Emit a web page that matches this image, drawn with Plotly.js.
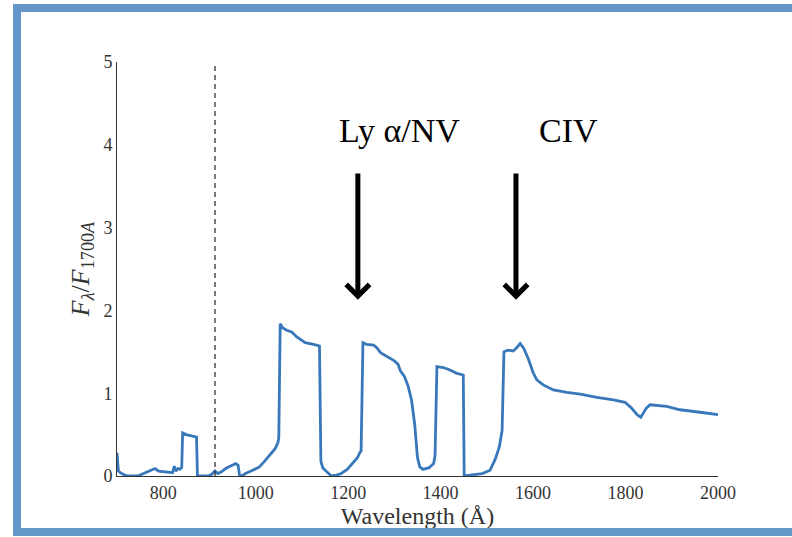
<!DOCTYPE html>
<html>
<head>
<meta charset="utf-8">
<script src="https://cdn.plot.ly/plotly-3.0.1.min.js"></script>
<style>
  html, body { margin: 0; padding: 0; background: #ffffff; }
  #wrap { position: relative; width: 792px; height: 537px; overflow: hidden; }
  #plot { position: absolute; left: 0; top: 0; width: 792px; height: 537px; }
  #frame {
    position: absolute; left: 13px; top: 4px; width: 820px; height: 516px;
    border-top: 8px solid #6396c9; border-left: 8px solid #6396c9; border-bottom: 8px solid #6396c9;
    pointer-events: none;
  }
</style>
</head>
<body>
<div id="wrap">
  <div id="plot"></div>
  <div id="frame"></div>
</div>
<script>
// Composite spectrum, normalised to the flux at 1700 Å
const wavelength = [
  700, 703, 710, 722, 745, 760, 775, 782, 790, 805, 820, 824, 827, 832, 836, 840,
  842, 850, 872, 874, 897, 905, 912, 918, 926, 935, 946, 957, 962, 965, 970,
  978, 990, 1000, 1008, 1018, 1026, 1034, 1042, 1048, 1050,
  1053, 1058, 1067, 1078, 1089, 1107, 1125, 1138,
  1141, 1145, 1152, 1160, 1164, 1175, 1185, 1198, 1210, 1220, 1226, 1228,
  1232, 1240, 1255, 1262, 1270, 1285, 1300, 1308, 1313, 1322, 1330, 1337, 1344, 1350,
  1355, 1362, 1375, 1385, 1388,
  1392, 1406, 1420, 1435, 1449,
  1451, 1490, 1507, 1518, 1527, 1533,
  1537, 1545, 1557, 1565, 1572, 1580, 1590, 1600, 1608, 1622, 1644, 1673, 1702,
  1738, 1774, 1799, 1813, 1825, 1833, 1845, 1853, 1889, 1918, 1961, 2000
];
const fluxRatio = [
  0.28, 0.06, 0.03, 0.00, 0.00, 0.04, 0.08, 0.09, 0.06, 0.05, 0.04, 0.12, 0.06, 0.09, 0.08, 0.10,
  0.52, 0.50, 0.47, 0.00, 0.00, 0.02, 0.06, 0.03, 0.05, 0.09, 0.12, 0.15, 0.13, 0.01, 0.00,
  0.03, 0.06, 0.09, 0.11, 0.17, 0.22, 0.27, 0.33, 0.40, 0.46,
  1.84, 1.79, 1.76, 1.74, 1.68, 1.61, 1.59, 1.57,
  0.18, 0.10, 0.06, 0.02, 0.00, 0.01, 0.03, 0.08, 0.15, 0.22, 0.29, 0.30,
  1.61, 1.59, 1.58, 1.55, 1.49, 1.44, 1.39, 1.35, 1.27, 1.20, 1.08, 0.92, 0.62, 0.22,
  0.11, 0.08, 0.10, 0.15, 0.25,
  1.32, 1.31, 1.28, 1.24, 1.22,
  0.00, 0.03, 0.07, 0.20, 0.35, 0.55,
  1.50, 1.52, 1.51, 1.55, 1.60, 1.54, 1.41, 1.25, 1.16, 1.10, 1.04, 1.01, 0.99,
  0.95, 0.92, 0.89, 0.82, 0.74, 0.71, 0.82, 0.86, 0.84, 0.80, 0.77, 0.74
];

// Lyman limit marker
const lymanLimit = 912;

// Emission-line labels and their arrows
const lineLabels = ['Ly α/NV', 'CIV'];
const labelWavelength = [1312, 1676];
const labelLevel = 4.17;
const arrowWavelength = [1221, 1563];
const arrowTop = 3.67;
const arrowTip = 2.13;

const xTicks = [800, 1000, 1200, 1400, 1600, 1800, 2000];
const yTicks = [0, 1, 2, 3, 4, 5];

const serif = '"Liberation Serif", "Times New Roman", serif';

const annotations = [];
lineLabels.forEach((t, i) => {
  annotations.push({
    x: labelWavelength[i], y: labelLevel, xref: 'x', yref: 'y',
    text: t, showarrow: false,
    font: { family: serif, size: 34, color: '#000000' }
  });
});
arrowWavelength.forEach((w) => {
  annotations.push({
    x: w, y: arrowTip, ax: w, ay: arrowTop, axref: 'x', ayref: 'y',
    xref: 'x', yref: 'y', text: '', showarrow: true,
    arrowhead: 4, arrowsize: 0.9, arrowwidth: 5, arrowcolor: '#000000'
  });
});

const trace = {
  x: wavelength, y: fluxRatio, type: 'scatter', mode: 'lines',
  line: { color: '#3777ba', width: 2.8, shape: 'linear' },
  hoverinfo: 'skip'
};

const layout = {
  width: 792, height: 537,
  margin: { l: 117, r: 74, t: 62, b: 61 },
  paper_bgcolor: '#ffffff', plot_bgcolor: '#ffffff',
  showlegend: false,
  xaxis: {
    range: [700, 2000], tickvals: xTicks, ticktext: xTicks.map(String),
    showgrid: false, zeroline: false, showline: true, linecolor: '#333333', linewidth: 1,
    ticks: '', tickfont: { family: serif, size: 18, color: '#333333' },
    title: { text: 'Wavelength (Å)', font: { family: serif, size: 24, color: '#333333' }, standoff: 4 }
  },
  yaxis: {
    range: [0, 5], tickvals: yTicks, ticktext: yTicks.map(String),
    showgrid: false, zeroline: false, showline: true, linecolor: '#333333', linewidth: 1,
    ticks: '', tickfont: { family: serif, size: 18, color: '#333333' },
    title: {
      text: '<i>F</i><sub><i>λ</i></sub>/<i>F</i><sub>1700<i>A</i></sub>',
      font: { family: serif, size: 26, color: '#333333' }, standoff: 6
    }
  },
  shapes: [{
    type: 'line', xref: 'x', yref: 'y',
    x0: lymanLimit, x1: lymanLimit, y0: 0, y1: 5,
    line: { color: '#222222', width: 1.2, dash: '5px,4px' }
  }],
  annotations: annotations
};

Plotly.newPlot('plot', [trace], layout, { staticPlot: true });
</script>
</body>
</html>
